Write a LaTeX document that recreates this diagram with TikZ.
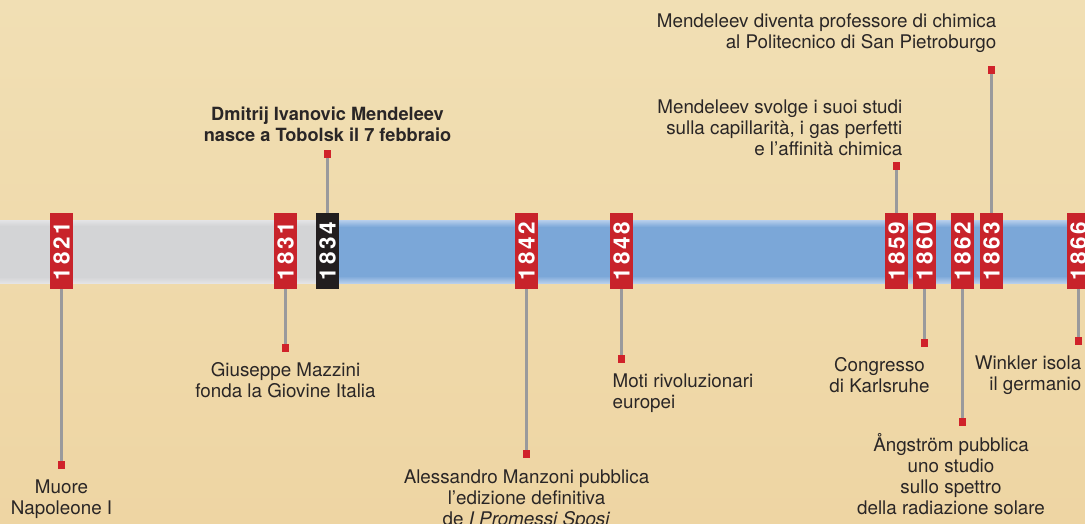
\documentclass[tikz,border=0pt]{standalone}
\usepackage{fontspec}
\setmainfont{TeX Gyre Heros}
\newfontfamily\yearfont[LetterSpace=12]{TeX Gyre Heros}
\usetikzlibrary{positioning}
\definecolor{bgtop}{HTML}{F1DFB4}
\definecolor{bgbot}{HTML}{EED5A3}
\definecolor{bandgrey}{HTML}{D3D4D6}
\definecolor{bandgreylt}{HTML}{E4E4E6}
\definecolor{bandblue}{HTML}{7BA7D8}
\definecolor{bandbluelt}{HTML}{B8CFEC}
\definecolor{yearred}{HTML}{C8232B}
\definecolor{yearblack}{HTML}{221E1F}
\definecolor{stemgrey}{HTML}{9A9A9C}
\definecolor{dotred}{HTML}{D0222A}
\definecolor{txt}{HTML}{2A2626}
\tikzset{%
    yearbox/.style={fill=yearred, text=white, rotate=90, minimum width=76pt,
        minimum height=23pt, inner sep=0pt,
        font=\yearfont\bfseries\fontsize{22.5}{22.5}\selectfont},
    stem/.style={draw=stemgrey, line width=3pt},
    dot/.style={fill=dotred, minimum size=7.5pt, inner sep=0pt},
    lbl/.style={text=txt, inner sep=0pt, font=\fontsize{18.8}{21}\selectfont},
    lblbold/.style={lbl, font=\fontsize{18.2}{21}\selectfont\bfseries}
}

\begin{document}
\begin{tikzpicture}[x=1pt,y=-1pt]
    \useasboundingbox (0,0) rectangle (1085,524);
    \shade[top color=bgtop,bottom color=bgbot] (0,0) rectangle (1085,524);
    % the band
    \fill[bandgrey] (0,220) rectangle (330,283);
    \fill[bandblue] (330,220) rectangle (1085,283);
    \shade[top color=bandgreylt,bottom color=bandgrey] (0,220) rectangle (330,226);
    \shade[top color=bandgrey,bottom color=bandgreylt] (0,277) rectangle (330,283);
    \shade[top color=bandbluelt,bottom color=bandblue] (330,220) rectangle (1085,227);
    \shade[top color=bandblue,bottom color=bandbluelt] (330,276) rectangle (1085,283);
    % years
    \foreach \yr/\x in {1821/61.5,1831/285.5,1842/526.5,1848/621.5,1859/896.5,
        1860/924.5,1862/962.5,1863/991.5,1866/1078.5}
        \node[yearbox] (y\yr) at (\x,251) {\yr};
    \node[yearbox,fill=yearblack] (y1834) at (327.5,251) {1834};
    % dots and stems
    \foreach \yr/\x/\y in {1821/61.5/465,1831/285.5/348,1834/327.5/154,
        1842/526.5/454,1848/621.5/359,1859/896.5/166,1860/924.5/343,
        1862/962.5/422,1863/991.5/70,1866/1078.5/341}{
        \node[dot] (d\yr) at (\x,\y) {};
        \draw[stem] (y\yr) -- (d\yr);
    }
    % events
    \node[lbl, align=center, below=10.5pt of d1821] (t1821) {Muore\\Napoleone I};
    \node[lbl, align=center, below=10.5pt of d1831] (t1831) {Giuseppe Mazzini\\fonda la Giovine Italia};
    \node[lblbold, align=center, above=8pt of d1834] (t1834) {Dmitrij Ivanovic Mendeleev\\nasce a Tobolsk il 7 febbraio};
    \node[lbl, align=center, below=11.5pt of d1842] (t1842) {Alessandro Manzoni pubblica\\l’edizione definitiva\\de \textit{I Promessi Sposi}};
    \node[lbl, align=left, below=10.5pt of d1848, anchor=north west, xshift=-9pt] (t1848) {Moti rivoluzionari\\europei};
    \node[lbl, align=right, above=6pt of d1859, anchor=south east, xshift=6pt] (t1859) {Mendeleev svolge i suoi studi\\sulla capillarità, i gas perfetti\\e l’affinità chimica};
    \node[lbl, align=center, below=10.5pt of d1860, xshift=-45pt] (t1860) {Congresso\\di Karlsruhe};
    \node[lbl, align=center, below=7.5pt of d1862, xshift=-11.5pt] (t1862) {Ångström pubblica\\uno studio\\sullo spettro\\della radiazione solare};
    \node[lbl, align=right, above=13.5pt of d1863, anchor=south east, xshift=5pt] (t1863) {Mendeleev diventa professore di chimica\\al Politecnico di San Pietroburgo};
    \node[lbl, align=right, below=10.5pt of d1866, anchor=north east, xshift=3pt] (t1866) {Winkler isola\\il germanio};
\end{tikzpicture}
\end{document}
